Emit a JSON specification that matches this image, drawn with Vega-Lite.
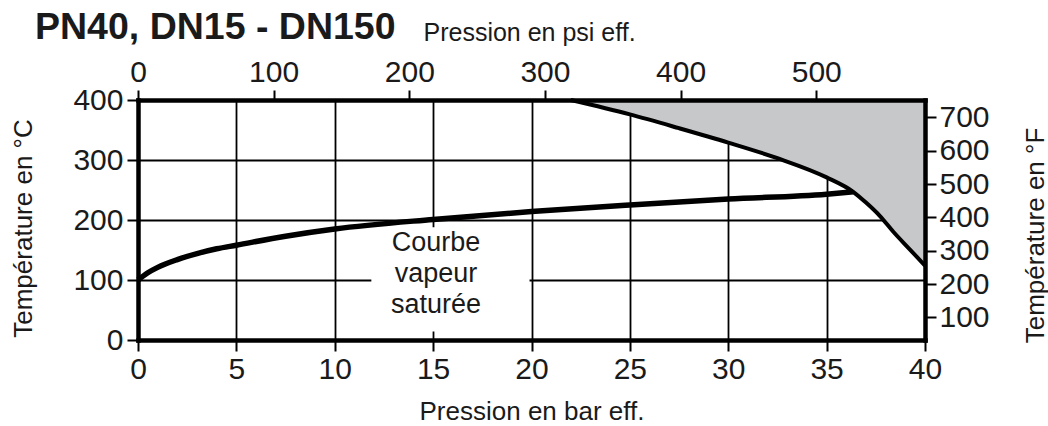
{
  "$schema": "https://vega.github.io/schema/vega-lite/v6.json",
  "width": 787,
  "height": 240,
  "autosize": "none",
  "padding": {"left": 138, "top": 100, "right": 123, "bottom": 86},
  "background": "white",
  "config": {
    "view": {"stroke": null},
    "font": "Liberation Sans",
    "axis": {
      "labelFont": "Liberation Sans",
      "labelFontSize": 30,
      "labelColor": "#1a1a1a",
      "labelFlush": false,
      "labelOverlap": false,
      "titleFont": "Liberation Sans",
      "titleFontSize": 26,
      "titleFontWeight": "normal",
      "titleColor": "#1a1a1a",
      "domainColor": "black",
      "domainWidth": 4.5,
      "domainCap": "square",
      "tickColor": "black",
      "tickWidth": 2,
      "tickSize": 11,
      "gridColor": "black",
      "gridWidth": 1.8,
      "gridOpacity": 1
    }
  },
  "title": {
    "text": "PN40, DN15 - DN150",
    "anchor": "start",
    "frame": "group",
    "font": "Liberation Sans",
    "fontSize": 37.5,
    "fontWeight": "bold",
    "color": "#1a1a1a",
    "dx": -103,
    "dy": 56,
    "offset": 0,
    "baseline": "alphabetic"
  },
  "datasets": {
    "sat": [
      {"p": 0, "t": 100},
      {"p": 0.5, "t": 112},
      {"p": 1, "t": 121},
      {"p": 2, "t": 134},
      {"p": 3, "t": 144},
      {"p": 4, "t": 152},
      {"p": 5, "t": 158},
      {"p": 7.5, "t": 173},
      {"p": 10, "t": 185},
      {"p": 15, "t": 201},
      {"p": 20, "t": 214},
      {"p": 25, "t": 225},
      {"p": 30, "t": 235},
      {"p": 35, "t": 243},
      {"p": 36.35, "t": 247}
    ],
    "limit": [
      {"p": 22, "t": 400},
      {"p": 25, "t": 376},
      {"p": 27.5, "t": 353},
      {"p": 30, "t": 329},
      {"p": 32.5, "t": 303},
      {"p": 35, "t": 271},
      {"p": 36.35, "t": 247},
      {"p": 37, "t": 229},
      {"p": 37.7, "t": 207},
      {"p": 38.4, "t": 180},
      {"p": 39.2, "t": 152},
      {"p": 40, "t": 124}
    ],
    "box": [
      {"p": 11.86, "p2": 19.9, "t": 14, "t2": 188}
    ],
    "label": [
      {"p": 15.15, "t": 161, "text": "Courbe\nvapeur\nsaturée"}
    ],
    "aux": [
      {"psi": 0, "f": 32},
      {"psi": 580.15, "f": 752}
    ]
  },
  "layer": [
    {
      "layer": [
        {
          "data": {"name": "box"},
          "mark": {"type": "rect", "fill": "white", "stroke": null},
          "encoding": {
            "x": {
              "field": "p", "type": "quantitative",
              "scale": {"domain": [0, 40], "nice": false, "zero": false},
              "title": "Pression en bar eff.",
              "axis": {
                "orient": "bottom",
                "values": [0, 5, 10, 15, 20, 25, 30, 35, 40],
                "format": "d",
                "grid": true,
                "labelPadding": 3,
                "titleX": 393.5,
                "titleY": 79,
                "titleAlign": "center",
                "titleBaseline": "alphabetic"
              }
            },
            "x2": {"field": "p2"},
            "y": {
              "field": "t", "type": "quantitative",
              "scale": {"domain": [0, 400], "nice": false},
              "title": "Température en °C",
              "axis": {
                "orient": "left",
                "values": [0, 100, 200, 300, 400],
                "format": "d",
                "grid": true,
                "labelPadding": 4,
                "titleAngle": 270,
                "titleX": -115,
                "titleY": 128,
                "titleAlign": "center",
                "titleBaseline": "middle"
              }
            },
            "y2": {"field": "t2"}
          }
        },
        {
          "data": {"name": "limit"},
          "mark": {"type": "area", "color": "#c7c8ca", "interpolate": "monotone"},
          "encoding": {
            "x": {"field": "p", "type": "quantitative", "title": "Pression en bar eff."},
            "y": {"field": "t", "type": "quantitative", "title": "Température en °C"},
            "y2": {"datum": 400}
          }
        },
        {
          "data": {"name": "limit"},
          "mark": {"type": "line", "color": "black", "strokeWidth": 4, "interpolate": "monotone"},
          "encoding": {
            "x": {"field": "p", "type": "quantitative", "title": "Pression en bar eff."},
            "y": {"field": "t", "type": "quantitative", "title": "Température en °C"}
          }
        },
        {
          "data": {"name": "sat"},
          "mark": {"type": "line", "color": "black", "strokeWidth": 5.5, "interpolate": "monotone"},
          "encoding": {
            "x": {"field": "p", "type": "quantitative", "title": "Pression en bar eff."},
            "y": {"field": "t", "type": "quantitative", "title": "Température en °C"}
          }
        },
        {
          "data": {"name": "label"},
          "mark": {
            "type": "text",
            "lineBreak": "\n",
            "font": "Liberation Sans",
            "fontSize": 27,
            "lineHeight": 31,
            "align": "center",
            "baseline": "middle",
            "color": "#1a1a1a"
          },
          "encoding": {
            "x": {"field": "p", "type": "quantitative", "title": "Pression en bar eff."},
            "y": {"field": "t", "type": "quantitative", "title": "Température en °C"},
            "text": {"field": "text"}
          }
        }
      ]
    },
    {
      "data": {"name": "aux"},
      "mark": {"type": "point", "opacity": 0},
      "encoding": {
        "x": {
          "field": "psi", "type": "quantitative",
          "scale": {"domain": [0, 580.15], "nice": false, "zero": false},
          "title": "Pression en psi eff.",
          "axis": {
            "orient": "top",
            "values": [0, 100, 200, 300, 400, 500],
            "format": "d",
            "grid": false,
            "zindex": 1,
            "tickSize": 10,
            "labelPadding": 3,
            "titleFontSize": 25,
            "titleX": 285,
            "titleY": -60,
            "titleAlign": "left",
            "titleBaseline": "alphabetic"
          }
        },
        "y": {
          "field": "f", "type": "quantitative",
          "scale": {"domain": [32, 752], "nice": false, "zero": false},
          "title": "Température en °F",
          "axis": {
            "orient": "right",
            "values": [100, 200, 300, 400, 500, 600, 700],
            "format": "d",
            "grid": false,
            "zindex": 1,
            "labelPadding": 3,
            "titleAngle": 270,
            "titleX": 110,
            "titleY": 135,
            "titleAlign": "center",
            "titleBaseline": "middle"
          }
        }
      }
    }
  ],
  "resolve": {"scale": {"x": "independent", "y": "independent"}}
}
